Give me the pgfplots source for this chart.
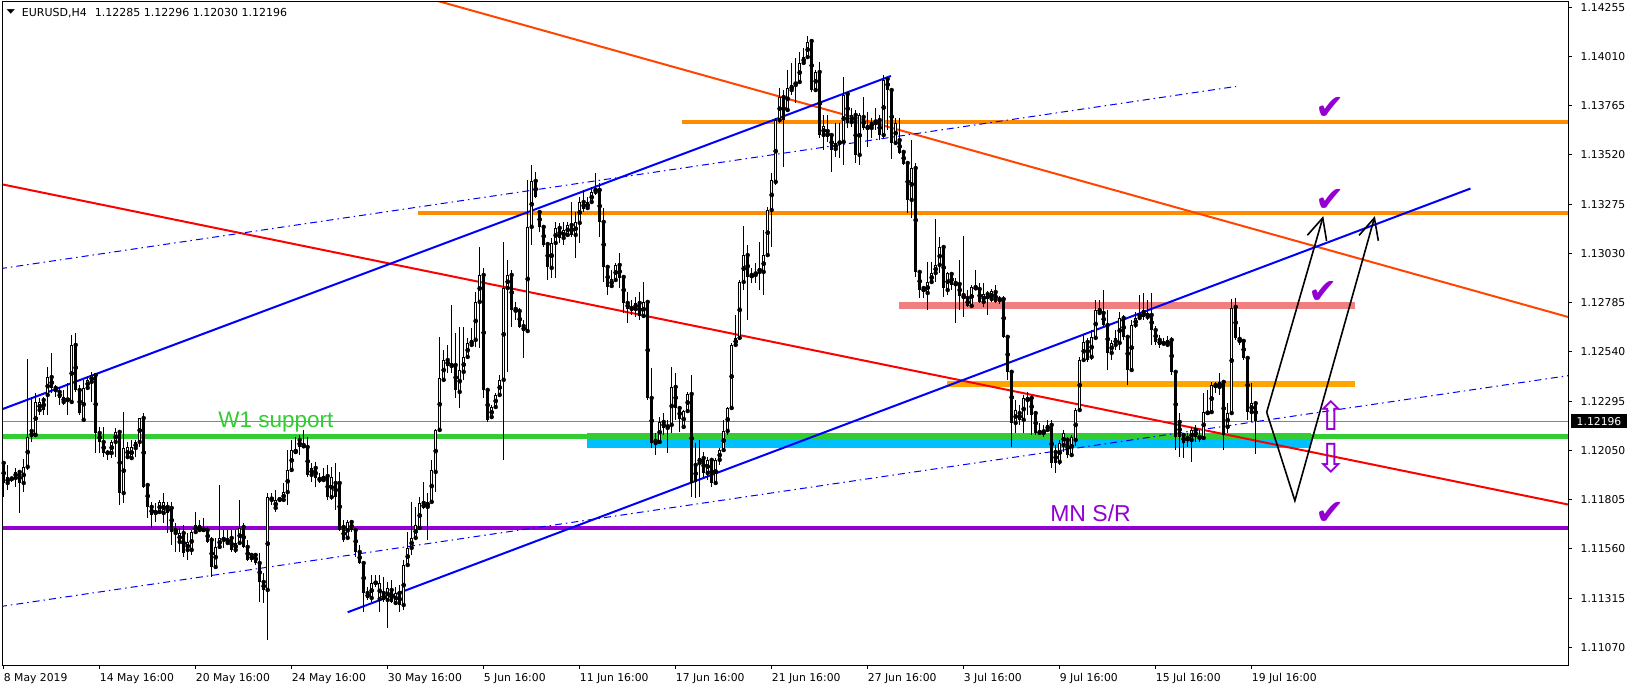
\documentclass[border=0pt]{standalone}
\usepackage{pgfplots}
\pgfplotsset{compat=1.18}
\usepackage{pgfplotstable}
\usepackage{graphicx}
\usepackage{fontspec}
\usetikzlibrary{arrows.meta}
\setmainfont{DejaVu Sans}
\newfontfamily\arialf{Liberation Sans}
\newfontfamily\djv{DejaVu Sans}
\definecolor{limeg}{RGB}{50,205,50}
\definecolor{dskyblue}{RGB}{0,191,255}
\definecolor{dorange}{RGB}{255,140,0}
\definecolor{orangeb}{RGB}{255,165,0}
\definecolor{lcoral}{RGB}{240,128,128}
\definecolor{dviolet}{RGB}{148,0,211}
\definecolor{oranger}{RGB}{255,69,0}
\definecolor{slategr}{RGB}{119,136,153}
\definecolor{pblue}{RGB}{0,0,255}
\definecolor{pred}{RGB}{255,0,0}

\pgfplotstableread{
i o h l c
0 1.11988 1.11993 1.11818 1.11888
1 1.11888 1.11978 1.11853 1.11918
2 1.11908 1.11918 1.11893 1.11913
3 1.11913 1.11963 1.11868 1.11943
4 1.11943 1.11953 1.11739 1.11888
5 1.11888 1.12008 1.11843 1.11968
6 1.11968 1.12505 1.11953 1.12117
7 1.12147 1.12316 1.12092 1.12117
8 1.12127 1.12336 1.12117 1.12291
9 1.12251 1.12311 1.12226 1.12291
10 1.12301 1.12316 1.12226 1.12251
11 1.12326 1.12465 1.12226 1.12415
12 1.12415 1.12535 1.12336 1.12361
13 1.12361 1.12376 1.12316 1.12341
14 1.12341 1.12366 1.12276 1.12311
15 1.12291 1.12351 1.12276 1.12316
16 1.12301 1.12386 1.12226 1.12306
17 1.12291 1.12624 1.12286 1.12575
18 1.12575 1.12634 1.12341 1.12351
19 1.12351 1.12376 1.12226 1.12236
20 1.12202 1.12401 1.12192 1.12361
21 1.12361 1.12411 1.12351 1.12401
22 1.12391 1.12441 1.12291 1.12425
23 1.12425 1.12430 1.12037 1.12137
24 1.12137 1.12167 1.12037 1.12092
25 1.12092 1.12167 1.12017 1.12037
26 1.12037 1.12052 1.12003 1.12042
27 1.12037 1.12102 1.12012 1.12092
28 1.12092 1.12162 1.12017 1.12142
29 1.12142 1.12152 1.11779 1.11838
30 1.11838 1.12241 1.11789 1.12062
31 1.12017 1.12092 1.12012 1.12067
32 1.12012 1.12102 1.12003 1.12067
33 1.12062 1.12102 1.12017 1.12092
34 1.12092 1.12211 1.12067 1.12211
35 1.12211 1.12236 1.11863 1.11868
36 1.11878 1.11878 1.11714 1.11769
37 1.11769 1.11793 1.11664 1.11729
38 1.11739 1.11789 1.11694 1.11749
39 1.11744 1.11804 1.11739 1.11794
40 1.11739 1.11838 1.11689 1.11794
41 1.11769 1.11794 1.11639 1.11739
42 1.11764 1.11794 1.11580 1.11644
43 1.11639 1.11689 1.11545 1.11664
44 1.11595 1.11664 1.11545 1.11639
45 1.11639 1.11679 1.11520 1.11540
46 1.11555 1.11639 1.11505 1.11595
47 1.11555 1.11654 1.11530 1.11644
48 1.11644 1.11744 1.11639 1.11679
49 1.11654 1.11704 1.11644 1.11679
50 1.11654 1.11714 1.11644 1.11659
51 1.11654 1.11669 1.11590 1.11595
52 1.11605 1.11620 1.11420 1.11470
53 1.11470 1.11615 1.11465 1.11570
54 1.11570 1.11878 1.11565 1.11615
55 1.11605 1.11654 1.11565 1.11615
56 1.11590 1.11654 1.11580 1.11615
57 1.11615 1.11654 1.11545 1.11555
58 1.11555 1.11654 1.11540 1.11590
59 1.11590 1.11804 1.11580 1.11664
60 1.11669 1.11689 1.11565 1.11570
61 1.11570 1.11605 1.11500 1.11505
62 1.11530 1.11540 1.11495 1.11505
63 1.11530 1.11540 1.11480 1.11490
64 1.11490 1.11540 1.11296 1.11396
65 1.11396 1.11440 1.11291 1.11356
66 1.11356 1.11838 1.11107 1.11818
67 1.11804 1.11838 1.11779 1.11818
68 1.11764 1.11853 1.11744 1.11804
69 1.11804 1.11818 1.11794 1.11813
70 1.11804 1.11888 1.11794 1.11843
71 1.11843 1.12052 1.11779 1.11953
72 1.11953 1.12102 1.11943 1.12052
73 1.12042 1.12117 1.12037 1.12052
74 1.12102 1.12127 1.12027 1.12067
75 1.12077 1.12152 1.12062 1.12067
76 1.12067 1.12117 1.11918 1.11928
77 1.11928 1.11988 1.11893 1.11963
78 1.11963 1.11993 1.11868 1.11913
79 1.11903 1.11938 1.11888 1.11913
80 1.11903 1.11963 1.11893 1.11923
81 1.11923 1.11978 1.11804 1.11818
82 1.11818 1.11968 1.11804 1.11918
83 1.11888 1.11988 1.11754 1.11818
84 1.11888 1.11943 1.11649 1.11654
85 1.11669 1.11704 1.11595 1.11605
86 1.11615 1.11704 1.11605 1.11694
87 1.11694 1.11704 1.11644 1.11654
88 1.11654 1.11654 1.11520 1.11545
89 1.11545 1.11580 1.11485 1.11490
90 1.11490 1.11495 1.11246 1.11341
91 1.11341 1.11371 1.11306 1.11316
92 1.11316 1.11431 1.11296 1.11391
93 1.11391 1.11431 1.11371 1.11396
94 1.11311 1.11431 1.11246 1.11391
95 1.11341 1.11421 1.11296 1.11306
96 1.11306 1.11396 1.11167 1.11366
97 1.11356 1.11406 1.11291 1.11296
98 1.11291 1.11371 1.11281 1.11341
99 1.11341 1.11381 1.11246 1.11281
100 1.11281 1.11505 1.11256 1.11480
101 1.11480 1.11644 1.11470 1.11565
102 1.11565 1.11794 1.11530 1.11615
103 1.11615 1.11769 1.11605 1.11679
104 1.11664 1.11818 1.11654 1.11789
105 1.11789 1.11893 1.11759 1.11764
106 1.11769 1.11838 1.11605 1.11794
107 1.11794 1.12003 1.11789 1.11953
108 1.11943 1.12157 1.11843 1.12152
109 1.12152 1.12615 1.12142 1.12411
110 1.12401 1.12550 1.12391 1.12500
111 1.12500 1.12575 1.12435 1.12470
112 1.12470 1.12774 1.12435 1.12480
113 1.12475 1.12634 1.12311 1.12351
114 1.12341 1.12664 1.12261 1.12450
115 1.12441 1.12664 1.12401 1.12515
116 1.12515 1.12610 1.12510 1.12585
117 1.12575 1.12659 1.12565 1.12600
118 1.12600 1.12838 1.12565 1.12789
119 1.12789 1.13062 1.12560 1.12923
120 1.12923 1.12958 1.12311 1.12351
121 1.12351 1.12361 1.12192 1.12202
122 1.12216 1.12276 1.12211 1.12266
123 1.12266 1.12336 1.12261 1.12326
124 1.12326 1.12425 1.12316 1.12401
125 1.12401 1.13087 1.12003 1.12858
126 1.12858 1.12998 1.12441 1.12923
127 1.12923 1.12948 1.12664 1.12749
128 1.12754 1.12789 1.12699 1.12739
129 1.12744 1.12759 1.12659 1.12664
130 1.12669 1.12699 1.12510 1.12644
131 1.12644 1.13396 1.12639 1.13162
132 1.13162 1.13470 1.13072 1.13391
133 1.13391 1.13435 1.13306 1.13311
134 1.13236 1.13241 1.13137 1.13162
135 1.13162 1.13172 1.13062 1.13072
136 1.13077 1.13082 1.12898 1.12963
137 1.12958 1.13107 1.12908 1.13082
138 1.13082 1.13187 1.12908 1.13157
139 1.13157 1.13182 1.13082 1.13107
140 1.13107 1.13187 1.13072 1.13147
141 1.13122 1.13187 1.13117 1.13172
142 1.13172 1.13286 1.13112 1.13122
143 1.13122 1.13236 1.13007 1.13187
144 1.13182 1.13311 1.13082 1.13286
145 1.13286 1.13346 1.13236 1.13251
146 1.13256 1.13311 1.13246 1.13286
147 1.13286 1.13361 1.13281 1.13336
148 1.13336 1.13430 1.13321 1.13356
149 1.13346 1.13381 1.13112 1.13187
150 1.13187 1.13256 1.12888 1.12963
151 1.12963 1.12973 1.12823 1.12863
152 1.12868 1.12948 1.12858 1.12903
153 1.12898 1.12983 1.12888 1.12973
154 1.12973 1.13032 1.12858 1.12908
155 1.12913 1.12923 1.12734 1.12784
156 1.12784 1.12838 1.12684 1.12754
157 1.12754 1.12799 1.12724 1.12764
158 1.12754 1.12813 1.12714 1.12784
159 1.12784 1.12838 1.12699 1.12719
160 1.12719 1.12888 1.12714 1.12789
161 1.12789 1.12799 1.12301 1.12311
162 1.12311 1.12460 1.12062 1.12087
163 1.12087 1.12137 1.12027 1.12107
164 1.12092 1.12216 1.12087 1.12192
165 1.12192 1.12236 1.12127 1.12162
166 1.12162 1.12202 1.12037 1.12177
167 1.12177 1.12465 1.12137 1.12366
168 1.12366 1.12435 1.12202 1.12261
169 1.12261 1.12266 1.12142 1.12206
170 1.12167 1.12251 1.12162 1.12246
171 1.12246 1.12341 1.12236 1.12331
172 1.12331 1.12425 1.11818 1.11888
173 1.11978 1.12087 1.11813 1.11893
174 1.11988 1.12102 1.11818 1.12012
175 1.12012 1.12042 1.11918 1.11938
176 1.11938 1.12017 1.11903 1.12003
177 1.12003 1.12012 1.11868 1.11888
178 1.11888 1.12012 1.11878 1.12003
179 1.12003 1.12062 1.11978 1.12052
180 1.12052 1.12202 1.12042 1.12147
181 1.12147 1.12266 1.12127 1.12261
182 1.12261 1.12585 1.12251 1.12575
183 1.12575 1.12724 1.12565 1.12610
184 1.12610 1.12898 1.12600 1.12888
185 1.12888 1.13167 1.12848 1.13022
186 1.13022 1.13072 1.12699 1.12913
187 1.12923 1.12958 1.12883 1.12913
188 1.12923 1.12983 1.12883 1.12938
189 1.12938 1.13087 1.12848 1.12958
190 1.12938 1.13147 1.12823 1.13022
191 1.13022 1.13261 1.13012 1.13246
192 1.13246 1.13430 1.13062 1.13396
193 1.13386 1.13704 1.13371 1.13694
194 1.13694 1.13853 1.13679 1.13808
195 1.13808 1.13843 1.13460 1.13694
196 1.13744 1.13943 1.13734 1.13853
197 1.13843 1.13978 1.13818 1.13868
198 1.13868 1.14002 1.13779 1.13883
199 1.13883 1.14032 1.13878 1.13978
200 1.13978 1.14052 1.13968 1.14007
201 1.14007 1.14112 1.14002 1.14082
202 1.14087 1.14092 1.13833 1.13843
203 1.13843 1.13943 1.13833 1.13933
204 1.13933 1.13983 1.13604 1.13619
205 1.13619 1.13719 1.13545 1.13664
206 1.13639 1.13719 1.13585 1.13609
207 1.13619 1.13629 1.13435 1.13545
208 1.13550 1.13679 1.13510 1.13580
209 1.13580 1.13679 1.13505 1.13585
210 1.13585 1.13908 1.13470 1.13818
211 1.13823 1.13828 1.13654 1.13679
212 1.13684 1.13754 1.13659 1.13719
213 1.13719 1.13744 1.13480 1.13520
214 1.13520 1.13729 1.13470 1.13719
215 1.13709 1.13808 1.13644 1.13654
216 1.13659 1.13734 1.13560 1.13654
217 1.13654 1.13704 1.13604 1.13684
218 1.13679 1.13754 1.13644 1.13694
219 1.13694 1.13719 1.13594 1.13619
220 1.13619 1.13918 1.13604 1.13893
221 1.13898 1.13908 1.13644 1.13843
222 1.13843 1.13853 1.13500 1.13580
223 1.13580 1.13704 1.13570 1.13679
224 1.13594 1.13704 1.13525 1.13530
225 1.13535 1.13540 1.13470 1.13475
226 1.13480 1.13485 1.13231 1.13296
227 1.13296 1.13594 1.13206 1.13455
228 1.13455 1.13480 1.12913 1.12938
229 1.12938 1.12948 1.12808 1.12848
230 1.12858 1.12863 1.12808 1.12838
231 1.12833 1.12988 1.12749 1.12888
232 1.12888 1.12988 1.12883 1.12933
233 1.12933 1.13202 1.12888 1.12973
234 1.12973 1.13112 1.12933 1.13062
235 1.13062 1.13072 1.12813 1.12858
236 1.12848 1.12938 1.12823 1.12933
237 1.12928 1.12938 1.12848 1.12873
238 1.12883 1.12908 1.12684 1.12873
239 1.12878 1.12998 1.12749 1.12818
240 1.12823 1.13117 1.12714 1.12808
241 1.12808 1.12848 1.12764 1.12769
242 1.12769 1.12873 1.12764 1.12863
243 1.12863 1.12948 1.12848 1.12853
244 1.12853 1.12883 1.12784 1.12789
245 1.12789 1.12883 1.12764 1.12828
246 1.12828 1.12843 1.12724 1.12803
247 1.12803 1.12853 1.12789 1.12843
248 1.12838 1.12873 1.12784 1.12789
249 1.12803 1.12818 1.12779 1.12794
250 1.12803 1.12818 1.12610 1.12615
251 1.12615 1.12620 1.12401 1.12441
252 1.12441 1.12450 1.12067 1.12187
253 1.12187 1.12301 1.12137 1.12251
254 1.12236 1.12276 1.12177 1.12202
255 1.12202 1.12326 1.12137 1.12311
256 1.12301 1.12341 1.12226 1.12311
257 1.12311 1.12326 1.12127 1.12226
258 1.12236 1.12241 1.12127 1.12137
259 1.12137 1.12187 1.12127 1.12147
260 1.12137 1.12177 1.12117 1.12152
261 1.12152 1.12202 1.12142 1.12177
262 1.12177 1.12202 1.11963 1.11988
263 1.12042 1.12077 1.11938 1.11988
264 1.11993 1.12102 1.11978 1.12087
265 1.12077 1.12152 1.12042 1.12137
266 1.12102 1.12117 1.12012 1.12027
267 1.12027 1.12127 1.12017 1.12117
268 1.12102 1.12261 1.12072 1.12251
269 1.12251 1.12515 1.12241 1.12500
270 1.12500 1.12624 1.12490 1.12590
271 1.12590 1.12610 1.12490 1.12500
272 1.12515 1.12649 1.12500 1.12615
273 1.12610 1.12798 1.12600 1.12749
274 1.12734 1.12798 1.12724 1.12759
275 1.12734 1.12848 1.12664 1.12674
276 1.12674 1.12749 1.12450 1.12535
277 1.12535 1.12600 1.12500 1.12585
278 1.12575 1.12649 1.12550 1.12610
279 1.12585 1.12739 1.12550 1.12709
280 1.12709 1.12724 1.12600 1.12615
281 1.12615 1.12624 1.12376 1.12450
282 1.12450 1.12699 1.12441 1.12674
283 1.12674 1.12739 1.12659 1.12709
284 1.12709 1.12823 1.12699 1.12734
285 1.12739 1.12833 1.12699 1.12714
286 1.12714 1.12799 1.12699 1.12734
287 1.12724 1.12833 1.12575 1.12649
288 1.12649 1.12669 1.12575 1.12590
289 1.12600 1.12624 1.12560 1.12575
290 1.12585 1.12610 1.12570 1.12580
291 1.12575 1.12620 1.12565 1.12600
292 1.12600 1.12615 1.12425 1.12441
293 1.12441 1.12450 1.12052 1.12117
294 1.12192 1.12236 1.12017 1.12117
295 1.12127 1.12137 1.12012 1.12087
296 1.12112 1.12137 1.12067 1.12102
297 1.12102 1.12167 1.11993 1.12152
298 1.12152 1.12177 1.12092 1.12117
299 1.12117 1.12152 1.12092 1.12112
300 1.12112 1.12336 1.12102 1.12241
301 1.12236 1.12351 1.12226 1.12241
302 1.12241 1.12391 1.12236 1.12376
303 1.12376 1.12391 1.12336 1.12366
304 1.12366 1.12435 1.12326 1.12391
305 1.12391 1.12401 1.12052 1.12127
306 1.12167 1.12286 1.12137 1.12236
307 1.12236 1.12803 1.12226 1.12759
308 1.12764 1.12808 1.12600 1.12610
309 1.12605 1.12664 1.12575 1.12590
310 1.12595 1.12600 1.12500 1.12510
311 1.12510 1.12515 1.12202 1.12241
312 1.12241 1.12386 1.12192 1.12286
313 1.12285 1.12296 1.12030 1.12196
}\candles

\begin{document}
\begin{tikzpicture}
\useasboundingbox (0,0) rectangle (1633pt,689pt);
\begin{axis}[
  at={(2.5pt,24pt)}, anchor=south west,
  scale only axis, width=1566pt, height=663.5pt,
  xmin=-0.3, xmax=391.2, ymin=1.109825, ymax=1.142835,
  axis line style={black, line width=1pt},
  axis on top,
  tick align=outside, major tick length=4pt,
  tick style={black, line width=1pt},
  xtick pos=left, xticklabel pos=left,
  ytick pos=right, yticklabel pos=right,
  xtick={0,24,48,72,96,120,144,168,192,216,240,264,288,312},
  xticklabels={8 May 2019,14 May 16:00,20 May 16:00,24 May 16:00,30 May 16:00,5 Jun 16:00,11 Jun 16:00,17 Jun 16:00,21 Jun 16:00,27 Jun 16:00,3 Jul 16:00,9 Jul 16:00,15 Jul 16:00,19 Jul 16:00},
  ytick={1.11070,1.11315,1.11560,1.11805,1.12050,1.12295,1.12540,1.12785,1.13030,1.13275,1.13520,1.13765,1.14010,1.14255},
  yticklabels={1.11070,1.11315,1.11560,1.11805,1.12050,1.12295,1.12540,1.12785,1.13030,1.13275,1.13520,1.13765,1.14010,1.14255},
  xticklabel style={anchor=north west, inner sep=0pt, yshift=-4pt, font=\fontsize{10.8}{12}\selectfont},
  yticklabel style={anchor=west, inner sep=0pt, xshift=8pt, font=\fontsize{10.8}{12}\selectfont},
  scaled y ticks=false,
]
% zones and levels
\addplot[draw=dskyblue, line width=15pt] coordinates {(145.8,1.120975) (326.8,1.120975)};
\addplot[draw=lcoral, line width=6.5pt] coordinates {(223.8,1.12771) (337.8,1.12771)};
\addplot[draw=orangeb, line width=6pt] coordinates {(235.8,1.12381) (337.8,1.12381)};
\addplot[draw=dorange, line width=4pt] coordinates {(169.6,1.13683) (393,1.13683)};
\addplot[draw=dorange, line width=4pt] coordinates {(103.6,1.13231) (393,1.13231)};
\addplot[draw=limeg, line width=5pt] coordinates {(-2,1.12119) (393,1.12119)};
\addplot[draw=dviolet, line width=4pt] coordinates {(-2,1.11663) (393,1.11663)};
\addplot[draw=slategr, line width=1pt] coordinates {(-2,1.12196) (393,1.12196)};
% trend lines
\addplot[draw=pred, line width=2pt] coordinates {(-0.925,1.13376) (391.1,1.11781)};
\addplot[draw=oranger, line width=2pt] coordinates {(99,1.14339) (391.1,1.12714)};
\addplot[draw=pblue, line width=2pt] coordinates {(-0.925,1.12251) (221.8,1.13913)};
\addplot[draw=pblue, line width=2pt] coordinates {(86,1.11245) (366.7,1.13353)};
\addplot[draw=pblue, line width=1pt, dash pattern=on 7pt off 4pt on 1.5pt off 4pt] coordinates {(-0.925,1.12954) (308.1,1.13861)};
\addplot[draw=pblue, line width=1pt, dash pattern=on 7pt off 4pt on 1.5pt off 4pt] coordinates {(-0.925,1.11273) (391.1,1.12422)};
% projection arrows
\addplot[draw=black, line width=1.6pt, -{Straight Barb[length=21pt,width=20pt,line width=1.6pt]}] coordinates {(315.75,1.12240) (329.9,1.13216)};
\addplot[draw=black, line width=1.6pt, -{Straight Barb[length=21pt,width=20pt,line width=1.6pt]}] coordinates {(315.75,1.12240) (322.8,1.11800) (342.8,1.13216)};
% candles: wicks
\addplot[only marks, mark=none, error bars/.cd, y dir=both, y explicit, error mark=none,
  error bar style={black, line width=1pt, solid}]
  table[x=i, y=o, y error plus expr={\thisrow{h}-\thisrow{o}}, y error minus expr={\thisrow{o}-\thisrow{l}}] {\candles};
% candles: bodies
\addplot[only marks, mark=none, error bars/.cd, y dir=both, y explicit, error mark=none,
  error bar style={black, line width=3.2pt, solid, line cap=butt}]
  table[x=i, y expr={(\thisrow{o}+\thisrow{c})/2}, y error expr={max(abs(\thisrow{c}-\thisrow{o})/2,0.000025)}] {\candles};
\addplot[only marks, mark=none, error bars/.cd, y dir=both, y explicit, error mark=none,
  error bar style={white, line width=1.2pt, solid, line cap=butt}]
  table[x=i, y expr={(\thisrow{o}+\thisrow{c})/2}, y error expr={max((\thisrow{c}-\thisrow{o})/2-0.00005,0)}] {\candles};
% texts and symbols
\node[anchor=base west, inner sep=0pt, text=limeg, font=\arialf\fontsize{22.5}{24}\selectfont] at (axis cs:53.6,1.12163) {W1 support};
\node[anchor=base west, inner sep=0pt, text=dviolet, font=\arialf\fontsize{23}{24}\selectfont] at (axis cs:261.6,1.11694) {MN S/R};
\node[inner sep=0pt, text=dviolet, font=\djv\fontsize{35}{35}\selectfont] at (axis cs:331.6,1.13752) {✔};
\node[inner sep=0pt, text=dviolet, font=\djv\fontsize{35}{35}\selectfont] at (axis cs:331.6,1.13293) {✔};
\node[inner sep=0pt, text=dviolet, font=\djv\fontsize{35}{35}\selectfont] at (axis cs:329.9,1.12835) {✔};
\node[inner sep=0pt, text=dviolet, font=\djv\fontsize{35}{35}\selectfont] at (axis cs:331.6,1.11737) {✔};
\node[inner sep=0pt, text=dviolet, font=\djv\fontsize{40}{40}\selectfont] at (axis cs:331.8,1.12225) {⇧};
\node[inner sep=0pt, text=dviolet, font=\djv\fontsize{40}{40}\selectfont] at (axis cs:331.8,1.12012) {⇩};
\end{axis}
\node[fill=black, text=white, anchor=west, inner xsep=5.5pt, inner ysep=0pt, minimum height=14pt, font=\fontsize{10.8}{12}\selectfont] at (1571pt,267.8pt) {1.12196};
\node[anchor=west, inner sep=0pt, font=\fontsize{11}{12}\selectfont] at (21.7pt,676.3pt) {EURUSD,H4\hspace{8pt}1.12285 1.12296 1.12030 1.12196};
\node[inner sep=0pt] at (10.8pt,677pt) {\scalebox{1}[0.55]{\fontsize{11}{11}\selectfont ▼}};
\end{tikzpicture}
\end{document}
